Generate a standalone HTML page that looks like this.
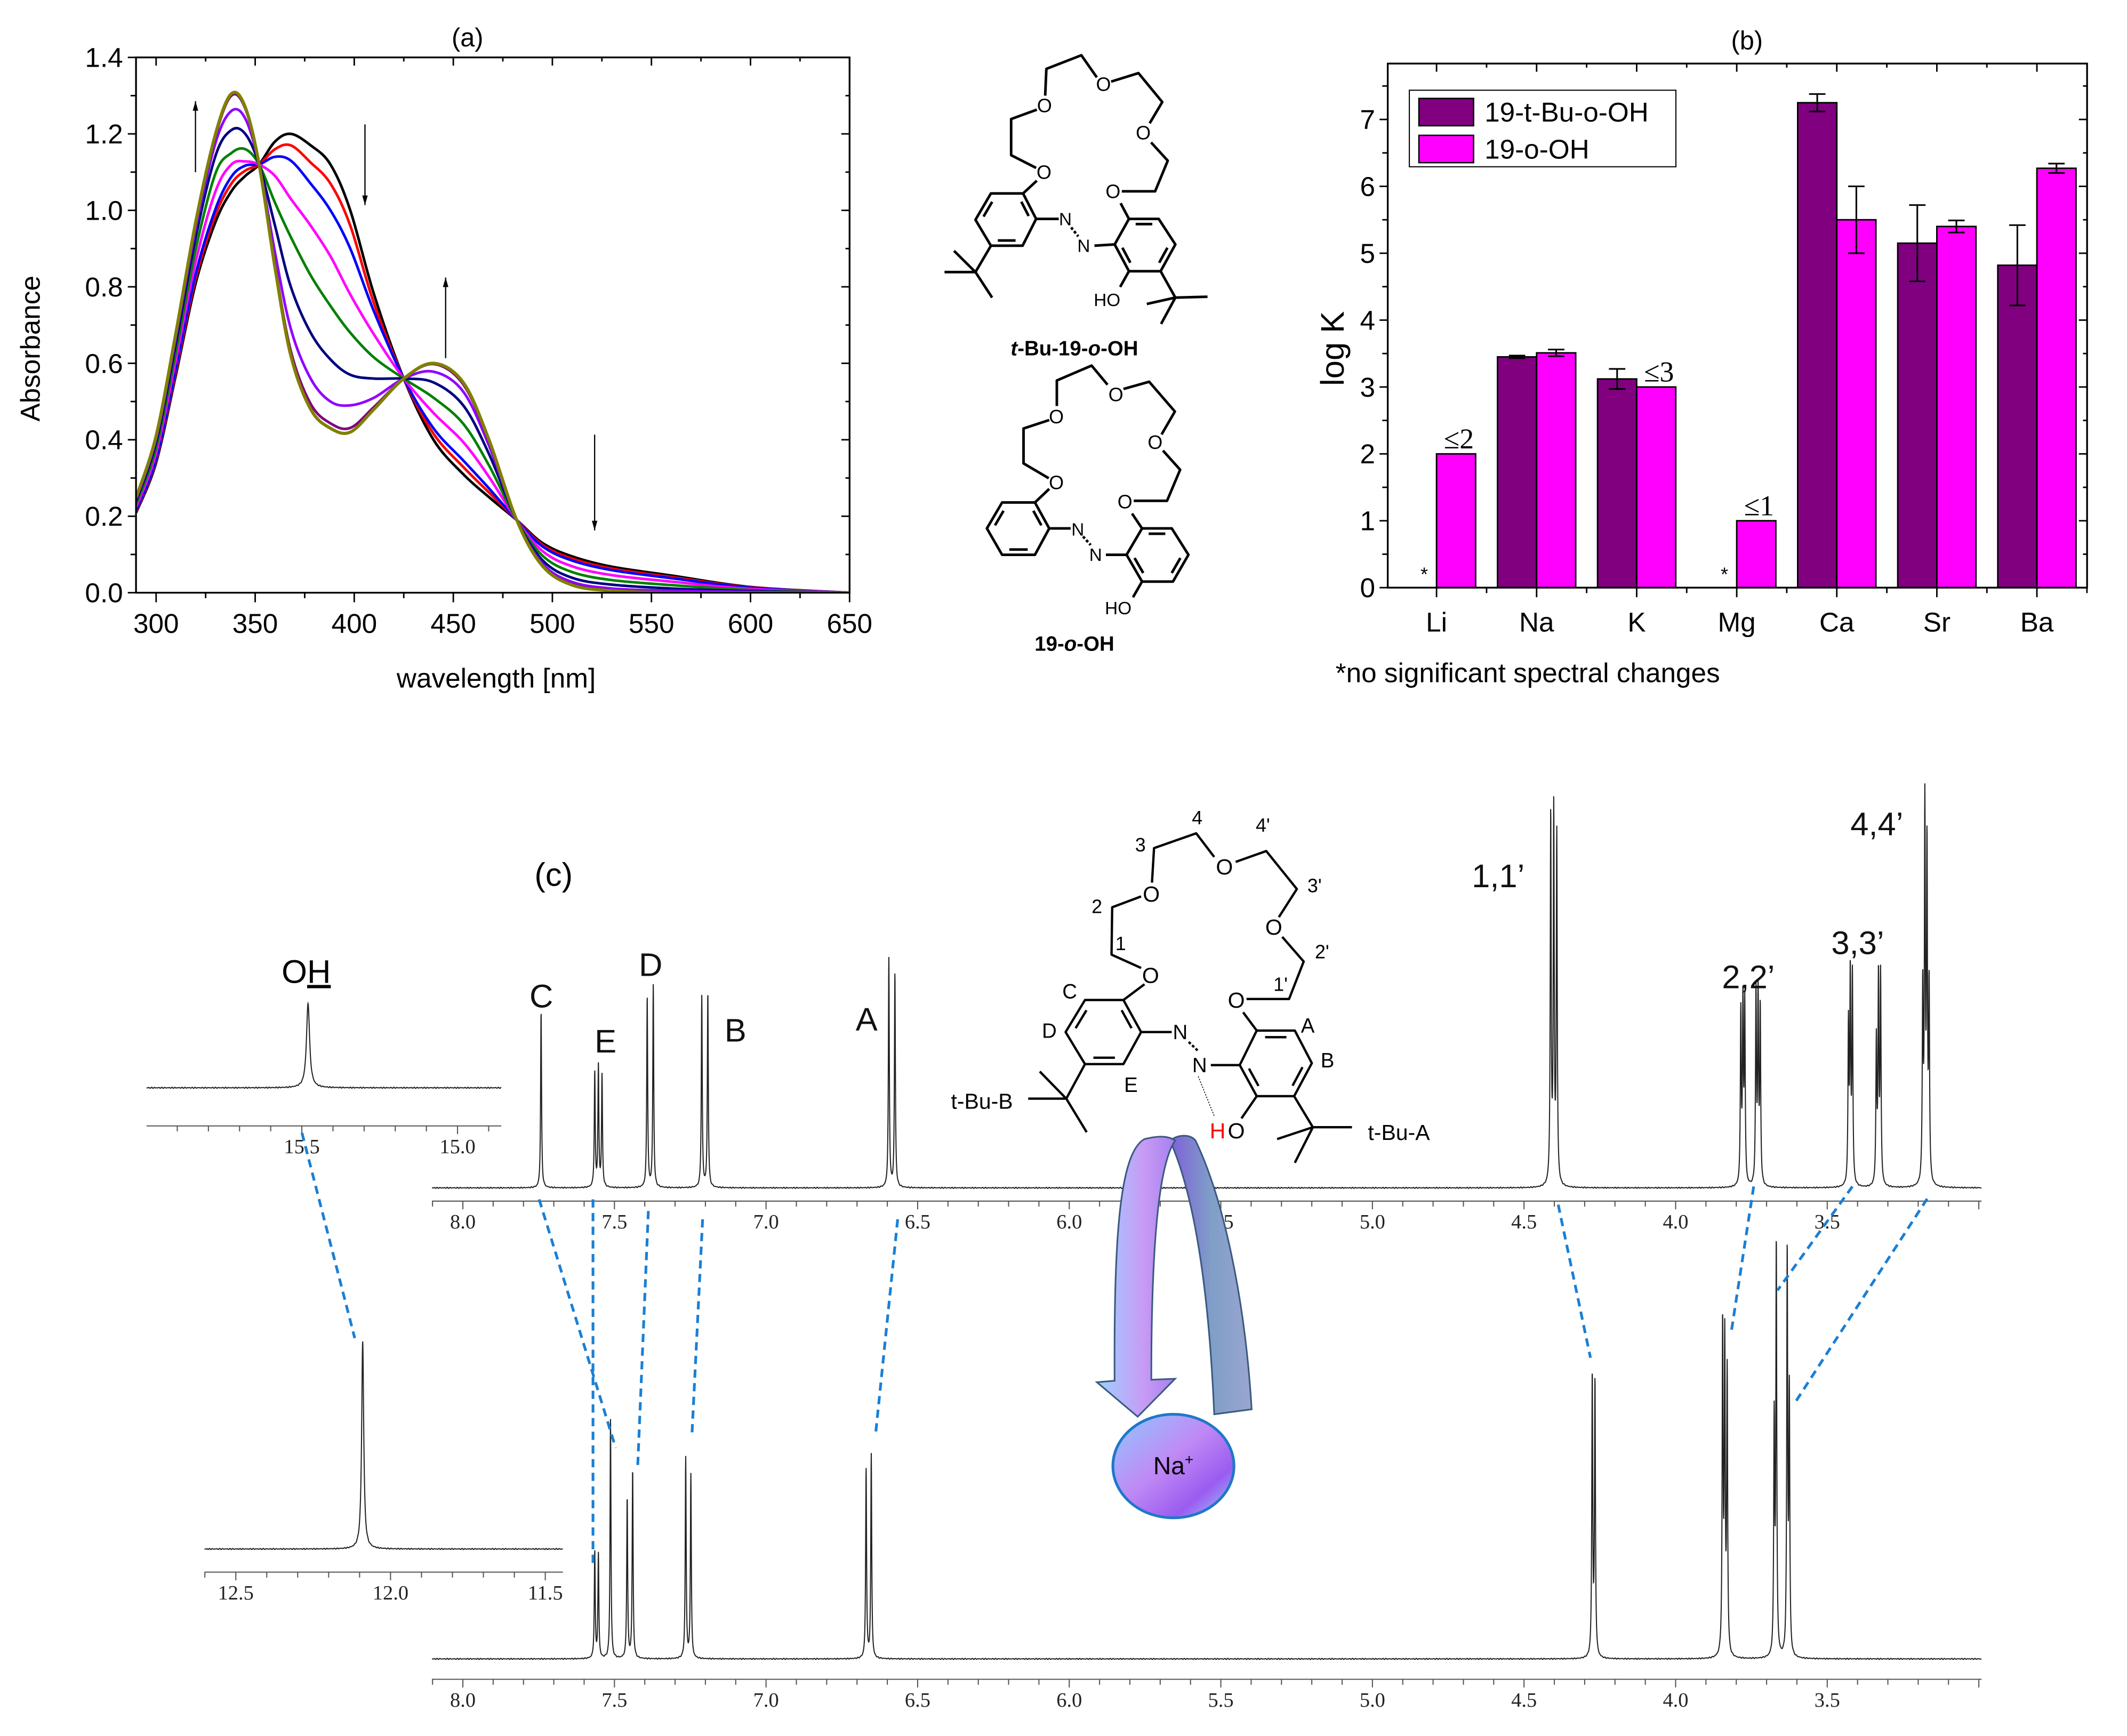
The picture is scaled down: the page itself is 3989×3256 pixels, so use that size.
<!DOCTYPE html>
<html><head><meta charset="utf-8"><title>Figure</title>
<style>
html,body{margin:0;padding:0;background:#fff;}
svg{display:block;}
text{font-family:"Liberation Sans",sans-serif;}
.serif{font-family:"Liberation Serif",serif;}
</style></head>
<body>
<svg id="fig" xmlns="http://www.w3.org/2000/svg" width="3989" height="3256" viewBox="0 0 1556 1270" preserveAspectRatio="none">
<defs>
<linearGradient id="gArmL" x1="0" y1="0" x2="1" y2="0"><stop offset="0" stop-color="#9fd0ff"/><stop offset="0.6" stop-color="#c79bf5"/><stop offset="1" stop-color="#a77ff0"/></linearGradient>
<linearGradient id="gArmR" x1="0" y1="0" x2="1" y2="0"><stop offset="0" stop-color="#7f5fd8"/><stop offset="0.5" stop-color="#7f9ec8"/><stop offset="1" stop-color="#9aa6cf"/></linearGradient>
<linearGradient id="gNa" x1="0" y1="0" x2="1" y2="1"><stop offset="0" stop-color="#8fc8ff"/><stop offset="0.45" stop-color="#c08af5"/><stop offset="0.75" stop-color="#9a5cf0"/><stop offset="1" stop-color="#9fd0ff"/></linearGradient>
</defs>
</svg>
<script>
// ---------------- DATA: panel (a) UV-vis titration ----------------
const wavelengths = [290,300,310,320,330,338,345,352,360,368,378,388,398,410,425,440,455,468,482,495,510,530,560,600,650];
const absBlack  = [0.21,0.34,0.57,0.81,0.97,1.05,1.09,1.12,1.18,1.20,1.17,1.12,1.00,0.78,0.56,0.40,0.31,0.25,0.19,0.13,0.095,0.068,0.045,0.015,0];
const absRed    = [0.213,0.346,0.579,0.823,0.988,1.07,1.104,1.12,1.16,1.17,1.125,1.07,0.96,0.756,0.56,0.416,0.329,0.262,0.19,0.125,0.089,0.063,0.041,0.014,0];
const absBlue   = [0.216,0.35,0.587,0.834,1.004,1.088,1.117,1.12,1.14,1.13,1.07,1.0,0.90,0.735,0.56,0.43,0.346,0.273,0.19,0.121,0.084,0.059,0.038,0.013,0];
const absMagenta= [0.224,0.365,0.609,0.866,1.05,1.12,1.128,1.12,1.09,1.03,0.96,0.88,0.78,0.675,0.56,0.47,0.394,0.303,0.19,0.109,0.069,0.046,0.029,0.01,0];
const absGreen  = [0.232,0.379,0.63,0.898,1.097,1.15,1.16,1.12,1.02,0.93,0.83,0.75,0.68,0.615,0.56,0.51,0.442,0.333,0.19,0.097,0.054,0.033,0.02,0.007,0];
const absNavy   = [0.24,0.393,0.652,0.93,1.143,1.21,1.2,1.12,0.96,0.80,0.68,0.61,0.57,0.56,0.56,0.55,0.49,0.363,0.19,0.085,0.039,0.021,0.011,0.004,0];
const absViolet = [0.246,0.403,0.669,0.954,1.177,1.26,1.24,1.12,0.89,0.69,0.56,0.50,0.49,0.51,0.56,0.578,0.526,0.385,0.19,0.076,0.028,0.011,0.005,0.002,0];
const absPurple = [0.249,0.409,0.678,0.967,1.195,1.30,1.266,1.12,0.857,0.632,0.494,0.443,0.431,0.486,0.56,0.598,0.545,0.397,0.19,0.071,0.022,0.006,0.001,0,0];
const absOlive  = [0.25,0.41,0.68,0.97,1.20,1.305,1.27,1.12,0.85,0.62,0.48,0.43,0.42,0.48,0.56,0.60,0.55,0.40,0.19,0.07,0.02,0.005,0,0,0];
const seriesA = [absBlack,absRed,absBlue,absMagenta,absGreen,absNavy,absViolet,absPurple,absOlive];
const seriesColors = ["#000000","#ff0000","#0000ff","#ff00ff","#008000","#000080","#8f00ff","#800080","#808000"];
const seriesNames = ["spectrum-0","spectrum-1","spectrum-2","spectrum-3","spectrum-4","spectrum-5","spectrum-6","spectrum-7","spectrum-8"];
const xTicksA = [300,350,400,450,500,550,600,650];
const yTicksA = [0.0,0.2,0.4,0.6,0.8,1.0,1.2,1.4];

// ---------------- DATA: panel (b) log K bars ----------------
const cations = ["Li","Na","K","Mg","Ca","Sr","Ba"];
const logKtBu = [null,3.45,3.12,null,7.25,5.15,4.82];
const errTBu  = [0,0.02,0.15,0,0.13,0.57,0.60];
const logKo   = [2.0,3.51,3.0,1.0,5.5,5.4,6.27];
const errO    = [0,0.05,0,0,0.5,0.09,0.07];
const yTicksB = [0,1,2,3,4,5,6,7];
const upperLimitLabels = ["≤2","","≤3","≤1","","",""];
const noChange = [true,false,false,true,false,false,false];

// ---------------- DATA: panel (c) NMR ----------------
const freePpm = [7.742,7.565,7.553,7.541,7.392,7.372,7.212,7.192,6.595,6.575,4.412,4.402,4.392,3.785,3.778,3.772,3.735,3.728,3.721,3.430,3.424,3.417,3.338,3.331,3.324,3.185,3.178,3.171,3.164];
const freeInt = [129,84,88,82,140,148,140,143,168,157,270,270,255,125,130,130,140,136,128,115,150,152,105,150,152,140,270,240,140];
const naPpm = [7.565,7.553,7.513,7.458,7.440,7.265,7.248,6.670,6.653,4.275,4.266,3.845,3.838,3.830,3.675,3.668,3.632,3.625];
const naInt = [78,76,175,118,138,147,135,139,149,205,200,240,225,205,170,300,295,190];
const ohFreePpm = [15.48], ohFreeInt = [62];
const ohNaPpm = [12.09], ohNaInt = [152];
const nmrTicksMain = [8.0,7.5,7.0,6.5,6.0,5.5,5.0,4.5,4.0,3.5];

// ---------------- helpers ----------------
const svg = document.getElementById('fig');
const NS = "http://www.w3.org/2000/svg";
function mk(tag, attrs, parent){
  const e = document.createElementNS(NS, tag);
  for (const k in attrs) e.setAttribute(k, attrs[k]);
  (parent||svg).appendChild(e);
  return e;
}
function nm(e, name, inter){
  
  
  return e;
}
function txt(x,y,s,size,opts,parent){
  opts = opts||{};
  const t = mk('text', Object.assign({x:x,y:y,'font-size':size,fill:opts.fill||'#000','text-anchor':opts.anchor||'middle'}, opts.extra||{}), parent);
  if (opts.cls) t.setAttribute('class', opts.cls);
  t.textContent = s;
  return t;
}
function line(x1,y1,x2,y2,w,col,parent){
  return mk('line',{x1:x1,y1:y1,x2:x2,y2:y2,stroke:col||'#000','stroke-width':w||1},parent);
}

// ================= PANEL (a) =================
const gA = nm(mk('g',{}), 'uv-vis-panel');
const A = {L:99.5,R:621.5,T:42,B:433.6};
function xA(w){ return 114.2 + (w-300)*(507.3/350); }
function yA(a){ return A.B - a*((A.B-A.T)/1.4); }
nm(txt(342,34,"(a)",19,{},gA),'panel-a-title');
const clipA = mk('clipPath',{id:'clipA'},gA);
mk('rect',{x:A.L,y:A.T,width:A.R-A.L,height:A.B-A.T},clipA);
function smoothPath(xs, ys){
  let d = "M"+xs[0].toFixed(2)+","+ys[0].toFixed(2);
  for (let i=0;i<xs.length-1;i++){
    const x0=xs[Math.max(i-1,0)], y0=ys[Math.max(i-1,0)];
    const x1=xs[i], y1=ys[i], x2=xs[i+1], y2=ys[i+1];
    const x3=xs[Math.min(i+2,xs.length-1)], y3=ys[Math.min(i+2,xs.length-1)];
    const c1x=x1+(x2-x0)/6, c1y=y1+(y2-y0)/6, c2x=x2-(x3-x1)/6, c2y=y2-(y3-y1)/6;
    d += " C"+c1x.toFixed(2)+","+c1y.toFixed(2)+" "+c2x.toFixed(2)+","+c2y.toFixed(2)+" "+x2.toFixed(2)+","+y2.toFixed(2);
  }
  return d;
}
const gCurves = nm(mk('g',{'clip-path':'url(#clipA)'},gA),'uv-vis-curves');
seriesA.forEach((s,i)=>{
  const xs = wavelengths.map(xA), ys = s.map(yA);
  const p = mk('path',{d:smoothPath(xs,ys),fill:'none',stroke:seriesColors[i],'stroke-width':(i===8?2.3:1.9),'stroke-linejoin':'round'},gCurves);
  
  
});
const boxA = mk('rect',{x:A.L,y:A.T,width:A.R-A.L,height:A.B-A.T,fill:'none',stroke:'#000','stroke-width':1.3},gA);
nm(boxA,'plot-frame-a');
for (let w=300; w<=650; w+=25){
  const maj = (w%50===0);
  const X = xA(w);
  nm(line(X,A.B,X,A.B+(maj?7:4),1.1,'#000',gA),'x-tick-a');
  nm(line(X,A.T,X,A.T+(maj?6:3),1.1,'#000',gA),'top-tick-a');
}
xTicksA.forEach(w=>{ nm(txt(xA(w),463,String(w),20,{},gA),'x-tick-label-a'); });
for (let k=0;k<=14;k++){
  const v=k*0.1, Y=yA(v), maj=(k%2===0);
  nm(line(A.L-(maj?6:4),Y,A.L,Y,1.1,'#000',gA),'y-tick-a');
  nm(line(A.R-(maj?6:3),Y,A.R,Y,1.1,'#000',gA),'right-tick-a');
}
yTicksA.forEach(v=>{ nm(txt(90,yA(v)+7,v.toFixed(1),20,{anchor:'end'},gA),'y-tick-label-a'); });
nm(txt(363,503,"wavelength [nm]",20,{},gA),'x-axis-title-a');
nm(txt(29,255,"Absorbance",20,{extra:{transform:'rotate(-90 29 255)'}},gA),'y-axis-title-a');
function arrow(x,y1,y2,name){
  const g = nm(mk('g',{},gA),name);
  line(x,y1,x,y2,0.9,'#000',g);
  const dir = y2<y1 ? -1 : 1;
  mk('path',{d:`M${x-2},${y2-dir*7} L${x},${y2} L${x+2},${y2-dir*7} Z`,fill:'#000'},g);
}
arrow(143,126,74,'arrow-up-330');
arrow(267,91,150,'arrow-down-370');
arrow(326,262,203,'arrow-up-440');
arrow(435,318,388,'arrow-down-520');

// ================= PANEL (b) =================
const gB = nm(mk('g',{}), 'logk-panel');
const B = {L:1015.2,R:1526.8,T:46.5,B:429.9};
function xB(i){ return 1050.9 + i*73.2; }
function yB(v){ return B.B - v*48.93; }
const bw = 28.6;
nm(txt(1278,36,"(b)",19,{},gB),'panel-b-title');
cations.forEach((c,i)=>{
  if (logKtBu[i]!==null){
    const r = mk('rect',{x:xB(i)-bw,y:yB(logKtBu[i]),width:bw,height:yB(0)-yB(logKtBu[i]),fill:'#800080',stroke:'#000','stroke-width':1.1},gB);
    
    
    if (errTBu[i]>0){
      const cx = xB(i)-bw/2;
      const eb = nm(mk('g',{},gB),'errorbar-tbu-'+c.toLowerCase());
      line(cx,yB(logKtBu[i]+errTBu[i]),cx,yB(logKtBu[i]-errTBu[i]),1.2,'#000',eb);
      line(cx-6,yB(logKtBu[i]+errTBu[i]),cx+6,yB(logKtBu[i]+errTBu[i]),1.2,'#000',eb);
      line(cx-6,yB(logKtBu[i]-errTBu[i]),cx+6,yB(logKtBu[i]-errTBu[i]),1.2,'#000',eb);
    }
  }
  const r2 = mk('rect',{x:xB(i),y:yB(logKo[i]),width:bw,height:yB(0)-yB(logKo[i]),fill:'#ff00ff',stroke:'#000','stroke-width':1.1},gB);
  
  
  if (errO[i]>0){
    const cx = xB(i)+bw/2;
    const eb = nm(mk('g',{},gB),'errorbar-o-'+c.toLowerCase());
    line(cx,yB(logKo[i]+errO[i]),cx,yB(logKo[i]-errO[i]),1.2,'#000',eb);
    line(cx-6,yB(logKo[i]+errO[i]),cx+6,yB(logKo[i]+errO[i]),1.2,'#000',eb);
    line(cx-6,yB(logKo[i]-errO[i]),cx+6,yB(logKo[i]-errO[i]),1.2,'#000',eb);
  }
  if (upperLimitLabels[i]){
    const t = txt(xB(i)+bw/2+2,yB(logKo[i])-4,upperLimitLabels[i],21,{cls:'serif'},gB);
    
    
  }
  if (noChange[i]){
    const t2 = txt(xB(i)-9,yB(0)-5,"*",14,{},gB);
    
    
  }
  const lab = txt(xB(i),462,c,20,{},gB);
  
  
});
nm(mk('rect',{x:B.L,y:B.T,width:B.R-B.L,height:B.B-B.T,fill:'none',stroke:'#000','stroke-width':1.3},gB),'plot-frame-b');
for (let k=0;k<cations.length;k++){
  nm(line(xB(k),B.B,xB(k),B.B+7,1.1,'#000',gB),'x-tick-b');
  nm(line(xB(k)+36.6,B.B,xB(k)+36.6,B.B+4,1.1,'#000',gB),'x-minor-tick-b');
  nm(line(xB(k),B.T,xB(k),B.T+6,1.1,'#000',gB),'top-tick-b');
  nm(line(xB(k)+36.6,B.T,xB(k)+36.6,B.T+3,1.1,'#000',gB),'top-minor-tick-b');
}
for (let k=0;k<=15;k++){
  const v=k*0.5, Y=yB(v), maj=(k%2===0);
  nm(line(B.L-(maj?6:4),Y,B.L,Y,1.1,'#000',gB),'y-tick-b');
  nm(line(B.R-(maj?6:3),Y,B.R,Y,1.1,'#000',gB),'right-tick-b');
}
yTicksB.forEach(v=>{ nm(txt(1006,yB(v)+7,String(v),20,{anchor:'end'},gB),'y-tick-label-b'); });
nm(txt(983,255,"log K",24,{extra:{transform:'rotate(-90 983 255)'}},gB),'y-axis-title-b');
nm(txt(977,499,"*no significant spectral changes",20,{anchor:'start'},gB),'footnote');
const leg = nm(mk('g',{},gB),'legend');
mk('rect',{x:1031,y:66,width:195,height:56,fill:'#fff',stroke:'#000','stroke-width':0.8},leg);
nm(mk('rect',{x:1038,y:72,width:40,height:20,fill:'#800080',stroke:'#000','stroke-width':1},leg),'legend-swatch-tbu');
nm(mk('rect',{x:1038,y:99,width:40,height:20,fill:'#ff00ff',stroke:'#000','stroke-width':1},leg),'legend-swatch-o');
nm(txt(1086,89,"19-t-Bu-o-OH",20,{anchor:'start'},leg),'legend-entry-tbu');
nm(txt(1086,116,"19-o-OH",20,{anchor:'start'},leg),'legend-entry-o');

// ================= Structures (top middle) =================
function m3(p){ return [663.1+p[0]*0.1741, p[1]*0.311]; }
function m4(p){ return [663.1+p[0]*0.2488, 565.6+p[1]*0.3608]; }
function polyl(pts, map, w, parent, name, closed, dash){
  const P = pts.map(map);
  const d = "M"+P.map(q=>q[0].toFixed(2)+","+q[1].toFixed(2)).join(" L")+(closed?" Z":"");
  const e = mk('path',{d:d,fill:'none',stroke:'#000','stroke-width':w,'stroke-linejoin':'round'},parent);
  if (dash) e.setAttribute('stroke-dasharray',dash);
  
  
  return e;
}
function ring(pts, map, w, parent, name, dbl){
  polyl(pts,map,w,parent,name,true);
  const P = pts.map(map);
  const cx = P.reduce((s,q)=>s+q[0],0)/6, cy = P.reduce((s,q)=>s+q[1],0)/6;
  dbl.forEach(k=>{
    const a=P[k], b=P[(k+1)%6];
    const ia=[a[0]+(cx-a[0])*0.2,a[1]+(cy-a[1])*0.2], ib=[b[0]+(cx-b[0])*0.2,b[1]+(cy-b[1])*0.2];
    const s1=[ia[0]+(ib[0]-ia[0])*0.15, ia[1]+(ib[1]-ia[1])*0.15], s2=[ia[0]+(ib[0]-ia[0])*0.85, ia[1]+(ib[1]-ia[1])*0.85];
    const l = line(s1[0],s1[1],s2[0],s2[1],w,'#000',parent);
    
    
  });
}
function label(p, map, s, size, parent, name, col){
  const q = map(p);
  const t = txt(q[0],q[1]+size*0.35,s,size,{fill:col||'#000'},parent);
  
  
  return t;
}
const g1 = nm(mk('g',{}),'structure-tbu-19-o-oh');
[[[583,225],[588,162],[735,130],[800,182]],
 [[860,192],[975,172],[1075,240],[1022,290]],
 [[1028,335],[1098,378],[1045,450],[905,450]],
 [[548,258],[440,280],[440,365],[545,395]],
 [[548,425],[490,455]],
 [[545,515],[640,515]],[[790,578],[875,575]],
 [[900,478],[935,515]],[[935,638],[898,675]],
 [[1068,638],[1130,700]],[[1130,700],[1265,698]],[[1130,700],[1010,715]],[[1130,700],[1070,762]],
 [[355,578],[290,640]],[[290,640],[160,640]],[[290,640],[200,590]],[[290,640],[360,700]]
].forEach(s=>polyl(s,m3,1.9,g1,'bond'));
polyl([[692,535],[722,556]],m3,1.9,g1,'azo-bond',false,'2 1.5');
ring([[490,455],[545,515],[488,578],[355,578],[290,517],[355,455]],m3,1.9,g1,'ring-left',[0,2,4]);
ring([[875,575],[935,515],[1060,515],[1130,575],[1068,638],[935,638]],m3,1.9,g1,'ring-right',[1,3,5]);
[[580,248],[828,198],[995,312],[578,405],[868,450]].forEach(p=>label(p,m3,"O",14,g1,'oxygen-label'));
label([668,515],m3,"N",13,g1,'nitrogen-label'); label([745,578],m3,"N",13,g1,'nitrogen-label');
label([843,705],m3,"HO",13,g1,'hydroxyl-label');
const t1 = txt(786,260,"",15,{extra:{'font-weight':'bold'}},g1);
t1.innerHTML = '<tspan font-style="italic">t</tspan>-Bu-19-<tspan font-style="italic">o</tspan>-OH';
nm(t1,'structure-label-tbu');
const g2 = nm(mk('g',{}),'structure-19-o-oh');
[[[632,955],[632,895],[778,860],[845,905]],
 [[912,915],[1020,898],[1128,968],[1072,1022]],
 [[1078,1060],[1150,1105],[1095,1178],[955,1178]],
 [[600,988],[492,1008],[492,1090],[598,1125]],
 [[600,1150],[540,1182]],
 [[600,1243],[690,1243]],[[838,1305],[925,1305]],
 [[948,1208],[990,1243]],[[990,1368],[952,1405]]
].forEach(s=>polyl(s,m3,1.9,g2,'bond'));
polyl([[742,1262],[774,1282]],m3,1.9,g2,'azo-bond',false,'2 1.5');
ring([[540,1182],[600,1243],[540,1305],[402,1305],[338,1243],[402,1182]],m3,1.9,g2,'ring-left',[0,2,4]);
ring([[925,1305],[990,1243],[1115,1243],[1185,1305],[1120,1368],[990,1368]],m3,1.9,g2,'ring-right',[1,3,5]);
[[630,980],[880,928],[1045,1040],[918,1180],[630,1135]].forEach(p=>label(p,m3,"O",14,g2,'oxygen-label'));
label([720,1245],m3,"N",13,g2,'nitrogen-label'); label([795,1305],m3,"N",13,g2,'nitrogen-label');
label([890,1430],m3,"HO",13,g2,'hydroxyl-label');
const t2 = txt(786,476,"",15,{extra:{'font-weight':'bold'}},g2);
t2.innerHTML = '19-<tspan font-style="italic">o</tspan>-OH';
nm(t2,'structure-label-o');

// ================= PANEL (c) NMR =================
const gC = nm(mk('g',{}),'nmr-panel');
nm(txt(405,648,"(c)",24,{},gC),'panel-c-title');
function spectrum(ppms, ints, x0, ppmPerPx, pL, pR, yb, w, name, parent){
  const npx = (pL-pR)/ppmPerPx;
  let d="";
  for (let k=0;k<=npx*8;k++){
    const px = k/8, p = pL - px*ppmPerPx;
    let s = 0;
    for (let j=0;j<ppms.length;j++){ const u=(p-ppms[j])/w; s += ints[j]/(1+u*u); }
    const noise = 0.4*Math.sin(k*0.37)*Math.sin(k*0.051);
    d += (k?"L":"M")+(x0+px).toFixed(2)+","+(yb - s + noise).toFixed(2);
  }
  const e = mk('path',{d:d,fill:'none',stroke:'#222','stroke-width':0.8},parent);
  
  
  return e;
}
function ppmAxis(x0, ppmPerPx, pL, pR, y, labels, name, parent, fs){
  const g = nm(mk('g',{},parent), name);
  const X = p=>x0+(pL-p)/ppmPerPx;
  line(X(pL),y,X(pR),y,0.8,'#555',g);
  for (let k=Math.ceil(pR*10-1e-6); k<=Math.floor(pL*10+1e-6); k++){
    const p=k/10, maj=(k%5===0);
    line(X(p),y,X(p),y+(maj?6:4),0.8,'#555',g);
  }
  labels.forEach(p=>{
    const t = txt(X(p),y+20,p.toFixed(1),fs||15,{cls:'serif',fill:'#222'},g);
    
    
  });
}
const ppx = 1/221.8;
const pLm = 8.0 + (338.6-316)*ppx, pRm = 8.0 - (1449.6-338.6)*ppx;
spectrum(freePpm, freeInt, 316, ppx, pLm, pRm, 869, 0.0018, 'nmr-free-spectrum', gC);
ppmAxis(316, ppx, pLm, pRm, 878.7, nmrTicksMain, 'nmr-free-axis', gC);
spectrum(naPpm, naInt, 316, ppx, pLm, pRm, 1213.6, 0.0018, 'nmr-na-spectrum', gC);
ppmAxis(316, ppx, pLm, pRm, 1228.5, nmrTicksMain, 'nmr-na-axis', gC);
const pxI1 = 0.5/113.9;
spectrum(ohFreePpm, ohFreeInt, 107.2, pxI1, 15.5+(220.8-107.2)*pxI1, 15.5-(366.7-220.8)*pxI1, 795.8, 0.006, 'oh-inset-free', gC);
ppmAxis(107.2, pxI1, 15.5+(220.8-107.2)*pxI1, 15.5-(366.7-220.8)*pxI1, 823.7, [15.5,15.0], 'oh-inset-free-axis', gC);
const pxI2 = 0.5/113.2;
spectrum(ohNaPpm, ohNaInt, 149.6, pxI2, 12.0+(285.7-149.6)*pxI2, 12.0-(411.8-285.7)*pxI2, 1133.2, 0.004, 'oh-inset-na', gC);
ppmAxis(149.6, pxI2, 12.0+(285.7-149.6)*pxI2, 12.0-(411.8-285.7)*pxI2, 1150.1, [12.5,12.0,11.5], 'oh-inset-na-axis', gC);
const ohLab = txt(224,719,"",24,{},gC);
ohLab.innerHTML = 'O<tspan text-decoration="underline">H</tspan>';
nm(ohLab,'oh-peak-label');
nm(mk('line',{x1:228,y1:722,x2:241,y2:722,stroke:'#000','stroke-width':1.2},gC),'oh-underline');
[["C",396,729],["E",443,762],["D",476,706],["B",538,754],["A",634,746],["1,1\u2019",1096,641],["2,2\u2019",1279,715],["3,3\u2019",1359,690],["4,4\u2019",1373,603]].forEach(a=>{
  const t = txt(a[1],a[2]+8,a[0],24,{fill:'#111'},gC);
  
  
});
[[220.9,828.8,259.5,978.9],[394.4,877.4,450.4,1059.2],[433.8,877.4,433.8,1146],[474.3,885.9,466.5,1073],[514,892,506.2,1049.5],[656.7,892,640.5,1049.5],
 [1139.9,881.3,1163.5,993.3],[1282.9,868,1266.7,973.1],[1355.1,868,1300.3,944],[1409.8,877,1314,1024.8]].forEach(c=>{
  const l = mk('line',{x1:c[0],y1:c[1],x2:c[2],y2:c[3],stroke:'#1a7fd4','stroke-width':2,'stroke-dasharray':'6 4'},gC);
  
  
});
const g4 = nm(mk('g',{}),'structure-nmr-assignment');
[[[690,250],[605,272],[603,368],[690,395]],
 [[722,222],[728,152],[852,122],[905,170]],
 [[968,180],[1058,158],[1148,235],[1095,292]],
 [[1105,332],[1168,382],[1125,458],[1000,458]],
 [[700,428],[638,460]],
 [[690,525],[780,525]],[[895,592],[980,592]],
 [[990,485],[1030,522]],[[1030,655],[985,700]],
 [[1140,655],[1195,718]],[[1195,718],[1310,718]],[[1195,718],[1090,742]],[[1195,718],[1142,790]],
 [[525,590],[470,660]],[[470,660],[358,660]],[[470,660],[392,605]],[[470,660],[530,728]]
].forEach(s=>polyl(s,m4,1.7,g4,'bond'));
polyl([[830,545],[860,565]],m4,1.7,g4,'azo-bond',false,'2 1.5');
polyl([[858,615],[905,695]],m4,0.6,g4,'hydrogen-bond',false,'1 1');
ring([[638,460],[690,525],[638,590],[525,590],[468,525],[525,460]],m4,1.7,g4,'ring-left',[0,2,4]);
ring([[980,592],[1030,522],[1142,522],[1192,588],[1140,655],[1030,655]],m4,1.7,g4,'ring-right',[1,3,5]);
[[935,190],[720,245],[1080,312],[718,410],[970,460]].forEach(p=>label(p,m4,"O",16,g4,'oxygen-label'));
label([805,525],m4,"N",15,g4,'nitrogen-label'); label([862,592],m4,"N",15,g4,'nitrogen-label');
label([915,725],m4,"H",16,g4,'hydroxyl-h-label','#ff0000'); label([970,725],m4,"O",16,g4,'hydroxyl-o-label');
[["1",630,345],["2",560,270],["3",688,145],["4",855,90],["4'",1048,105],["3'",1200,228],["2'",1222,362],["1'",1100,428]].forEach(a=>label([a[1],a[2]],m4,a[0],14,g4,'position-label'));
[["C",480,442],["D",420,522],["E",660,632],["A",1180,512],["B",1238,582]].forEach(a=>label([a[1],a[2]],m4,a[0],15,g4,'proton-label'));
label([222,665],m4,"t-Bu-B",16,g4,'tbu-b-label'); label([1448,728],m4,"t-Bu-A",16,g4,'tbu-a-label');
function pathMap(cmds){
  return cmds.map(c=>{ let s=c[0]; for(let i=1;i<c.length;i+=2){ const q=m4([c[i],c[i+1]]); s+=q[0].toFixed(2)+","+q[1].toFixed(2)+" "; } return s; }).join("");
}
const armR = mk('path',{d:pathMap([["M",775,745],["C",800,732,835,732,850,745],["C",930,860,995,1060,1015,1290],["L",905,1300],["C",890,1060,850,860,775,745],["Z"]]),fill:'url(#gArmR)',stroke:'#3c5a80','stroke-width':1.2},g4);
nm(armR,'rotation-arrow-back');
const armL = mk('path',{d:pathMap([["M",700,742],["C",740,735,770,735,790,745],["C",735,800,720,1000,720,1230],["L",790,1228],["L",680,1305],["L",560,1235],["L",612,1232],["C",610,950,625,770,700,742],["Z"]]),fill:'url(#gArmL)',stroke:'#3c5a80','stroke-width':1.2},g4);
nm(armL,'rotation-arrow-front');
const naC = m4([785,1405]);
nm(mk('ellipse',{cx:naC[0],cy:naC[1],rx:178*0.2488,ry:105*0.3608,fill:'url(#gNa)',stroke:'#1f78c8','stroke-width':2},g4),'sodium-ion');
const naT = txt(naC[0],naC[1]+6,"",18,{},g4);
naT.innerHTML = 'Na<tspan font-size="11" dy="-7">+</tspan>';
nm(naT,'sodium-label');
</script>
</body></html>
